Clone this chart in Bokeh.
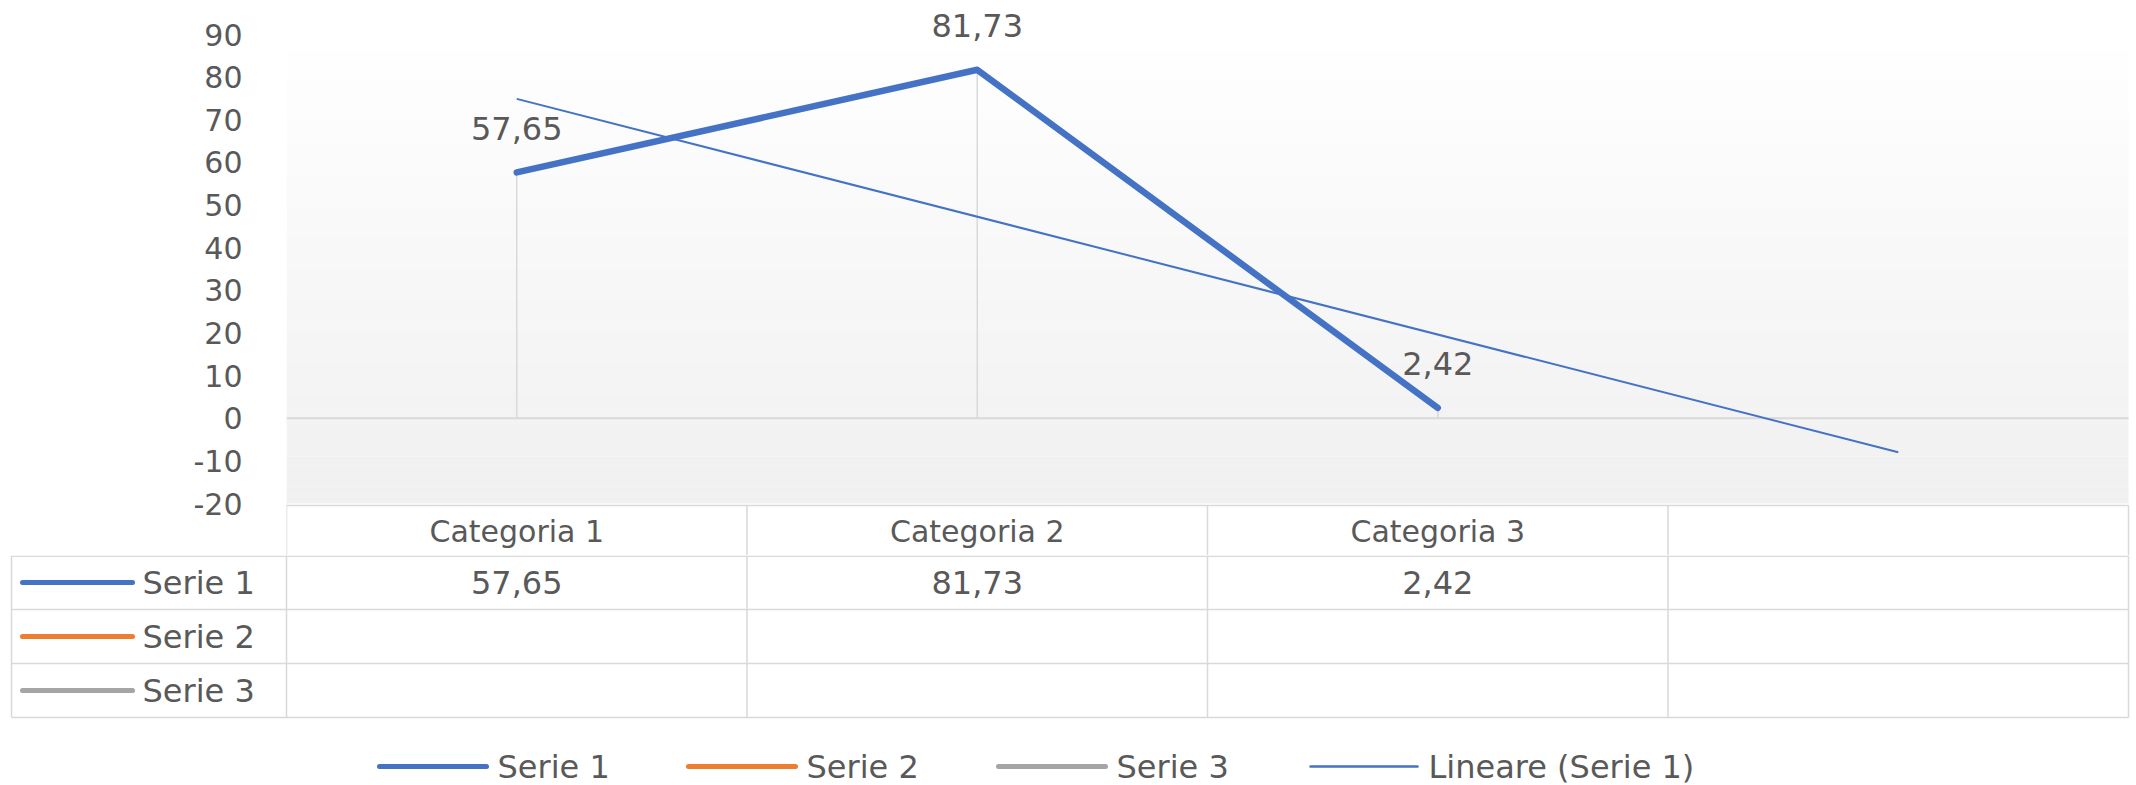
import numpy as np
from bokeh.plotting import figure
from bokeh.models import Range1d, FixedTicker, NumeralTickFormatter
from bokeh.layouts import column
from bokeh.core.properties import value
from bokeh.embed import file_html
from bokeh.resources import INLINE

# ---------------- data ----------------
categories = ["Categoria 1", "Categoria 2", "Categoria 3"]
serie1 = [57.65, 81.73, 2.42]
series_names = ["Serie 1", "Serie 2", "Serie 3"]
series_colors = ["#4472C4", "#ED7D31", "#A5A5A5"]
trend_name = "Lineare (Serie 1)"
trend_values = [74.9, -8.0]          # trend line at Categoria 1 and at the forecast slot
y_ticks = [-20, -10, 0, 10, 20, 30, 40, 50, 60, 70, 80, 90]

# ---------------- style / layout ----------------
FONT = "DejaVu Sans"
TXT = "#595959"
GRID = "#D9D9D9"
W = 2136
PLOT_H = 555          # plot figure: 0..555 (includes the table header row)
TABLE_H = 230         # table figure: 555..785
LEFT = 286            # plot-area left edge
RIGHT_EDGE = 2128     # plot-area / table right edge
TOP_TICK_Y, BOT_TICK_Y = 34, 503

n_slots = len(categories) + 1
xs = list(range(1, len(categories) + 1))
fmt = lambda v: f"{v:.2f}".replace(".", ",")
slot_w = (RIGHT_EDGE - LEFT) / n_slots
x_end = n_slots + 0.5 + (W - RIGHT_EDGE) / slot_w

ppu = (BOT_TICK_Y - TOP_TICK_Y) / (y_ticks[-1] - y_ticks[0])
y_top = y_ticks[-1] + TOP_TICK_Y / ppu
y_bot = y_ticks[0] - (PLOT_H - BOT_TICK_Y) / ppu

p = figure(width=W, height=PLOT_H, x_range=Range1d(0.5, x_end),
           y_range=Range1d(y_bot, y_top), output_backend="svg", toolbar_location=None,
           min_border_left=LEFT, min_border_right=0, min_border_top=0, min_border_bottom=0,
           x_axis_type=None)
p.extra_y_ranges = {"px": Range1d(start=PLOT_H, end=0)}
p.grid.visible = False
p.outline_line_color = None
p.background_fill_color = "white"
p.border_fill_color = "white"

yax = p.yaxis[0]
yax.ticker = FixedTicker(ticks=y_ticks)
yax.formatter = NumeralTickFormatter(format="0")
yax.axis_line_color = None
yax.major_tick_line_color = None
yax.minor_tick_line_color = None
yax.major_tick_out = 0
yax.major_tick_in = 0
yax.major_label_standoff = 44
yax.major_label_text_font = FONT
yax.major_label_text_font_size = "30px"
yax.major_label_text_color = TXT

# plot-area gradient (white at top -> light grey at bottom)
nb = 60
edges = np.linspace(y_ticks[0], y_ticks[-1], nb + 1)
mids = (edges[:-1] + edges[1:]) / 2
cols = []
for m in mids:
    f = (m - y_ticks[0]) / (y_ticks[-1] - y_ticks[0])
    c = int(round(240 + 15 * f))
    cols.append(f"#{c:02x}{c:02x}{c:02x}")
p.quad(left=0.5, right=n_slots + 0.5, bottom=edges[:-1], top=edges[1:] + 0.05,
       fill_color=cols, line_color=None)

# zero line and drop lines
p.segment(x0=0.5, y0=0, x1=n_slots + 0.5, y1=0, line_color=GRID, line_width=2)
p.segment(x0=xs, y0=[0] * len(xs), x1=xs, y1=serie1, line_color=GRID, line_width=1.5)

# trend line and series
p.line([1, n_slots], trend_values, line_color=series_colors[0], line_width=2)
p.line(xs, serie1, line_color=series_colors[0], line_width=6.5,
       line_join="round", line_cap="round")

# data labels
p.text(x=xs, y=serie1, text=[fmt(v) for v in serie1], y_offset=-44,
       text_align="center", text_baseline="middle",
       text_font=value(FONT), text_font_size="32px", text_color=TXT)

# header row of the data table (inside the plot figure)
bounds = [i + 0.5 for i in range(n_slots + 1)]
HDR_TOP = 505
p.segment(x0=0.5, y0=HDR_TOP, x1=n_slots + 0.5, y1=HDR_TOP, y_range_name="px",
          line_color=GRID, line_width=1.5)
p.segment(x0=bounds, y0=[HDR_TOP] * len(bounds), x1=bounds, y1=[PLOT_H] * len(bounds),
          y_range_name="px", line_color=GRID, line_width=1.5)
p.text(x=xs, y=[531] * len(xs), text=categories, y_range_name="px",
       text_align="center", text_baseline="middle",
       text_font=value(FONT), text_font_size="30px", text_color=TXT)

# ---------------- data table rows + legend ----------------
t = figure(width=W, height=TABLE_H, x_range=Range1d(0, W), y_range=Range1d(start=TABLE_H, end=0),
           output_backend="svg", toolbar_location=None, x_axis_type=None, y_axis_type=None,
           min_border_left=0, min_border_right=0, min_border_top=0, min_border_bottom=0)
t.extra_x_ranges = {"cat": Range1d(0.5 - LEFT / slot_w, x_end)}
t.grid.visible = False
t.outline_line_color = None
t.background_fill_color = "white"
t.border_fill_color = "white"

for fig in (p, t):
    try:
        fig.frame_align = False
    except Exception:
        pass

TBL_L = 11
row_tops = [0.75, 54, 108, 162]
t.segment(x0=[TBL_L] * 4, y0=row_tops, x1=[RIGHT_EDGE] * 4, y1=row_tops,
          line_color=GRID, line_width=1.5)
t.segment(x0=bounds, y0=[0] * len(bounds), x1=bounds, y1=[row_tops[-1]] * len(bounds),
          x_range_name="cat", line_color=GRID, line_width=1.5)
t.segment(x0=TBL_L, y0=0, x1=TBL_L, y1=row_tops[-1], line_color=GRID, line_width=1.5)

row_mid = [27, 81, 135]
# Serie 1 values
t.text(x=xs, y=[row_mid[0]] * len(xs), text=[fmt(v) for v in serie1], x_range_name="cat",
       text_align="center", text_baseline="middle",
       text_font=value(FONT), text_font_size="32px", text_color=TXT)
# row labels with swatches
t.segment(x0=[22] * 3, y0=row_mid, x1=[132] * 3, y1=row_mid, line_color=series_colors,
          line_width=5, line_cap="round")
t.text(x=[142] * 3, y=row_mid, text=series_names, text_align="left", text_baseline="middle",
       text_font=value(FONT), text_font_size="32px", text_color=TXT)

# legend
LEG_Y = 211
leg_names = series_names + [trend_name]
leg_colors = series_colors + [series_colors[0]]
leg_widths = [5, 5, 5, 2.5]
leg_x0 = [379, 688, 998, 1310]
for name, c, lw, x0 in zip(leg_names, leg_colors, leg_widths, leg_x0):
    t.segment(x0=x0, y0=LEG_Y, x1=x0 + 107, y1=LEG_Y, line_color=c, line_width=lw, line_cap="round")
    t.text(x=[x0 + 118], y=[LEG_Y], text=[name], text_align="left", text_baseline="middle",
           text_font=value(FONT), text_font_size="32px", text_color=TXT)

layout = column(p, t, spacing=0)
open("out.html", "w").write(file_html(layout, INLINE))
